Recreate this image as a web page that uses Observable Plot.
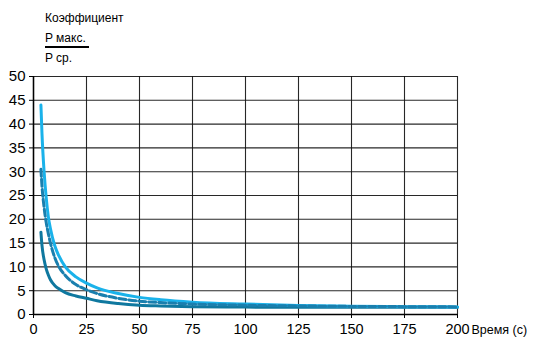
<!DOCTYPE html>
<html><head><meta charset="utf-8">
<script src="https://cdn.jsdelivr.net/npm/d3@7"></script>
<script src="https://cdn.jsdelivr.net/npm/@observablehq/plot@0.6"></script>
<style>
body{margin:0;background:#fff;font-family:"Liberation Sans",Arial,sans-serif;}
#wrap{position:relative;width:533px;height:338px;}
.hdr{position:absolute;left:45px;font-size:12px;color:#000;line-height:14px;}
</style></head>
<body><div id="wrap">
<div class="hdr" style="top:11px">Коэффициент</div>
<div class="hdr" style="top:31px;border-bottom:2px solid #000;padding-bottom:1px;padding-right:3px">P макс.</div>
<div class="hdr" style="top:51px">P ср.</div>
</div>
<script>
const xTicks = [0,25,50,75,100,125,150,175,200];
const yTicks = [0,5,10,15,20,25,30,35,40,45,50];
const xLabel = "Время (с)";

const tLight = [3.5,4,5,6,7,8,10,12,15,20,25,30,40,50,60,75,100,125,150,175,200];
const vLight = [44,38,30,24.5,20.5,18,14.5,12.3,10,7.9,6.6,5.6,4.4,3.6,3.1,2.6,2.2,1.9,1.75,1.65,1.6];

const tDash = [3.5,4,5,6,7,8,10,12,15,20,25,30,40,50,60,75,100,125,150,175,200];
const vDash = [30.5,27,22.5,19.3,17,15,12,10,8.2,6.3,5.2,4.4,3.4,2.8,2.5,2.2,1.95,1.8,1.7,1.65,1.6];

const tDark = [3.5,4,5,6,7,8,10,12,15,20,25,30,40,50,60,75,100,125,150,175,200];
const vDark = [17.3,14.5,11.5,9.6,8.3,7.3,6.1,5.4,4.6,3.9,3.4,2.9,2.3,1.95,1.8,1.65,1.55,1.5,1.5,1.5,1.5];

const toRows = (t, v) => t.map((x, i) => ({t: x, v: v[i]}));
const light = toRows(tLight, vLight);
const dash = toRows(tDash, vDash);
const dark = toRows(tDark, vDark);

const chart = Plot.plot({
  width: 533, height: 338,
  marginLeft: 33, marginRight: 76, marginTop: 76, marginBottom: 24,
  style: {fontFamily: "Liberation Sans, Arial, sans-serif", fontSize: "15px", color: "#000", background: "transparent"},
  x: {domain: [0, 200], ticks: xTicks, label: null, tickSize: 4, tickPadding: 5},
  y: {domain: [0, 50], ticks: yTicks, label: null, tickSize: 4, tickPadding: 4},
  marks: [
    Plot.gridX(xTicks, {stroke: "#111", strokeOpacity: 0.9, strokeWidth: 1.1}),
    Plot.gridY(yTicks, {stroke: "#111", strokeOpacity: 0.9, strokeWidth: 1.1}),
    Plot.axisX({ticks: xTicks, tickSize: 4, tickPadding: 5, fontSize: 14.5, stroke: "#000"}),
    Plot.axisY({ticks: yTicks, tickSize: 4, tickPadding: 4, fontSize: 15, stroke: "#000"}),
    Plot.ruleX([0], {stroke: "#000", strokeWidth: 1.5}),
    Plot.ruleY([0], {stroke: "#000", strokeWidth: 1.5}),
    Plot.line(dark, {x: "t", y: "v", stroke: "#0f789f", strokeWidth: 3, curve: "monotone-x"}),
    Plot.line(light, {x: "t", y: "v", stroke: "#1ab2ea", strokeWidth: 3, curve: "monotone-x"}),
    Plot.line(dash, {x: "t", y: "v", stroke: "#1a7fae", strokeWidth: 3, strokeDasharray: "7,3", curve: "monotone-x"}),
    Plot.text([xLabel], {frameAnchor: "bottom-right", dx: 14, dy: 15, textAnchor: "start", lineAnchor: "middle", fontSize: 12.5})
  ]
});
document.getElementById("wrap").appendChild(chart);
chart.style.position = "absolute";
chart.style.left = "0";
chart.style.top = "0";
</script>
</body></html>
